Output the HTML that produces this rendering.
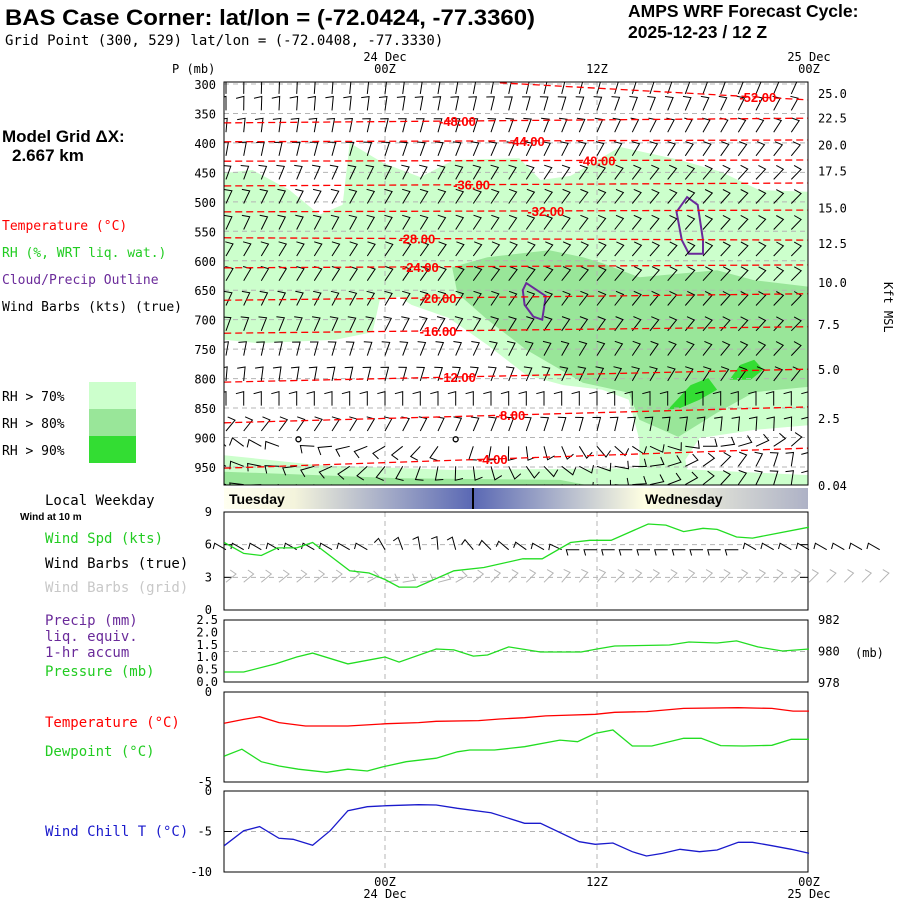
<!DOCTYPE html>
<html><head><meta charset="utf-8"><style>
html,body{margin:0;padding:0;background:#fff;}
svg{display:block;font-family:"Liberation Sans",sans-serif;}
.mono{font-family:"DejaVu Sans Mono","Liberation Mono",monospace;font-size:12px;}
.lab{font-family:"DejaVu Sans Mono","Liberation Mono",monospace;font-size:13px;}
.lab2{font-family:"DejaVu Sans Mono","Liberation Mono",monospace;font-size:14px;}
</style></head><body>
<svg id="chart" width="900" height="900" viewBox="0 0 900 900" xmlns="http://www.w3.org/2000/svg">
<defs>
<clipPath id="mainClip"><rect x="224" y="82" width="584" height="403"/></clipPath>
<linearGradient id="dayGrad" x1="224" y1="0" x2="808" y2="0" gradientUnits="userSpaceOnUse">
<stop offset="0" stop-color="#fffff0"/><stop offset="0.12" stop-color="#f4f4dc"/>
<stop offset="0.426" stop-color="#5a68b4"/><stop offset="0.72" stop-color="#ffffe2"/>
<stop offset="1" stop-color="#aeb2c6"/></linearGradient>
</defs>
<text x="5" y="25" font-size="22" font-weight="bold" textLength="530" lengthAdjust="spacingAndGlyphs">BAS Case Corner:  lat/lon = (-72.0424, -77.3360)</text>
<text x="5" y="45" class="lab2">Grid Point (300, 529) lat/lon = (-72.0408, -77.3330)</text>
<text x="628" y="17" font-size="17.5" font-weight="bold">AMPS WRF Forecast Cycle:</text>
<text x="628" y="38" font-size="17.5" font-weight="bold">2025-12-23 / 12  Z</text>
<text x="2" y="142" font-size="17" font-weight="bold">Model Grid ΔX:</text>
<text x="12" y="161" font-size="17" font-weight="bold">2.667 km</text>
<text x="2" y="230" class="lab" fill="#ff0000">Temperature (°C)</text>
<text x="2" y="257" class="lab" fill="#22cc22">RH (%, WRT liq. wat.)</text>
<text x="2" y="284" class="lab" fill="#6a2a9a">Cloud/Precip Outline</text>
<text x="2" y="311" class="lab">Wind Barbs (kts) (true)</text>
<rect x="89" y="382" width="47" height="27" fill="#ccffcc"/>
<rect x="89" y="409" width="47" height="27" fill="#99e699"/>
<rect x="89" y="436" width="47" height="27" fill="#33dd33"/>
<text x="2" y="401" class="lab">RH &gt; 70%</text>
<text x="2" y="428" class="lab">RH &gt; 80%</text>
<text x="2" y="455" class="lab">RH &gt; 90%</text>
<text x="45" y="505" class="lab2">Local Weekday</text>
<text x="20" y="520" font-size="10" font-weight="bold">Wind at 10 m</text>
<text x="45" y="543" class="lab2" fill="#22cc22">Wind Spd (kts)</text>
<text x="45" y="568" class="lab2">Wind Barbs (true)</text>
<text x="45" y="592" class="lab2" fill="#c8c8c8">Wind Barbs (grid)</text>
<text x="45" y="625" class="lab2" fill="#6a2a9a">Precip (mm)</text>
<text x="45" y="641" class="lab2" fill="#6a2a9a">liq. equiv.</text>
<text x="45" y="657" class="lab2" fill="#6a2a9a">1-hr accum</text>
<text x="45" y="676" class="lab2" fill="#22cc22">Pressure (mb)</text>
<text x="45" y="727" class="lab2" fill="#ff0000">Temperature (°C)</text>
<text x="45" y="756" class="lab2" fill="#22cc22">Dewpoint (°C)</text>
<text x="45" y="836" class="lab2" fill="#1a1acc">Wind Chill T (°C)</text>
<text class="mono" transform="translate(884,282) rotate(90)">Kft MSL</text>
<text class="mono" x="172" y="73">P (mb)</text>
<g id="main"></g>
<rect x="224" y="488" width="584" height="21" fill="url(#dayGrad)"/>
<line x1="473" y1="488" x2="473" y2="509" stroke="#000" stroke-width="2"/>
<text x="229" y="504" font-size="14" font-weight="bold">Tuesday</text>
<text x="645" y="504" font-size="14" font-weight="bold">Wednesday</text>
<g id="lower"></g>
</svg>
<script>
// ---- data ----
const levelTicks = [300,350,400,450,500,550,600,650,700,750,800,850,900,950];
const kftLabels = ["25.0","22.5","20.0","17.5","15.0","12.5","10.0","7.5","5.0","2.5","0.04"];
const kftPressure = [315,357,403,447,510,570,636,707,784,867,981];
const contourLevels = [-48,-44,-40,-36,-32,-28,-24,-20,-16,-12,-8,-4,-52];
const contourStartP = [366,398,431,473,517,561,612,667,723,806,875,952,298];
const contourEndP = [358,395,429,468,514,565,607,656,712,784,848,918,327];
const contourStartH = [-9.1,-9.1,-9.1,-9.1,-9.1,-9.1,-9.1,-9.1,-9.1,-9.1,-9.1,-9.1,6.5];
const contourLabelH = [4.1,8.0,12.0,4.9,9.1,1.8,2.0,3.0,3.0,4.1,7.1,6.1,21.1];
const rh70Main = [[-9.1,451],[-7.5,446],[-5.4,480],[-3.7,522],[-2.4,505],[-2.0,400],[-0.1,434],[2.0,458],[3.9,429],[7.6,426],[8.8,463],[10.5,456],[13.3,407],[16.7,429],[19.0,449],[21.2,480],[24,483],[24,879],[20.9,887],[17.8,901],[17.0,938],[17.3,981],[14.4,981],[14.4,904],[13.8,836],[12.3,819],[10.1,811],[8.0,794],[5.8,743],[3.6,697],[1.5,675],[0.8,661],[-0.3,667],[-0.7,721],[-2.8,734],[-7.2,740],[-9.1,734]];
const rh70Band = [[-9.1,930],[-3.7,947],[3.7,955],[14.4,952],[17.8,955],[24,964],[24,985],[-9.1,985]];
const rh80Main = [[3.8,611],[5.8,594],[9.3,582],[11.2,594],[12.3,604],[14.4,628],[18.8,616],[20.9,633],[24,644],[24,814],[20.9,823],[18.8,858],[16.6,899],[14.4,870],[13.8,824],[11.2,807],[8.0,751],[5.8,700],[4.1,655]];
const rh80Band = [[-9.1,958],[0.8,969],[9.9,972],[12.2,985],[-9.1,985]];
const rh90BlobA = [[16.0,853],[17.3,811],[18.3,799],[18.8,819],[17.8,836],[16.7,850]];
const rh90BlobB = [[19.5,802],[20.1,777],[20.9,768],[21.4,785],[20.7,802]];
const cloudA = [[7.8,650],[8.0,638],[9.1,660],[8.9,700],[8.4,695],[7.9,675]];
const cloudB = [[16.5,517],[17.1,492],[17.7,505],[18.0,565],[18.0,588],[17.2,588],[16.8,565]];
const barbLevels = [305,333,370,410,450,491,535,580,622,664,707,749,792,834,877,903,937,968];
const barbDirEarly = [0,0,5,10,20,25,25,30,30,25,20,10,5,0,40,315,300,285];
const barbDirLate = [25,30,35,40,45,45,45,45,45,45,45,45,40,0,0,40,0,0];
const calmHours = [-4.9,4.0];
const sfcBarbHours = [-9,-8,-7,-6,-5,-4,-3,-2,-1,0,1,2,3,4,5,6,7,8,9,10,11,12,13,14,15,16,17,18,19,20,21,22,23,24,25,26,27,28];
const trueBarbDir = [300,300,300,300,300,300,300,300,300,330,340,350,355,345,320,315,310,305,300,295,270,270,270,270,270,270,270,270,270,270,300,300,300,300,300,300,300,300];
const gridBarbDir = [50,50,50,50,50,50,50,50,60,80,80,80,75,60,50,45,45,45,45,40,40,40,45,45,45,45,45,45,45,45,45,45,45,45,45,45,45,45];
const windHours = [-9.1,-8.0,-7.0,-6.1,-5.0,-4.1,-2.0,-0.9,0,0.8,1.8,3.9,5.6,7.8,8.9,10.5,11.6,12.8,14.9,15.9,16.9,18.0,18.8,19.9,20.8,24.0];
const windSpeed = [6.2,5.2,5.0,5.7,5.7,6.2,3.6,3.4,2.8,2.1,2.1,3.6,3.9,4.7,4.7,6.2,6.4,6.4,7.9,7.8,7.2,7.5,7.4,6.7,6.6,7.6];
const presHours = [-9.1,-8.0,-6.2,-5.0,-4.1,-2.1,0,0.8,2.9,3.9,5.0,5.8,7.0,8.8,11.1,12.0,13.0,16.1,17.2,18.8,19.9,21.1,22.5,24.0];
const presMb = [978.70,978.70,979.21,979.65,979.90,979.21,979.65,979.33,980.16,980.10,979.71,979.78,980.29,979.97,979.97,980.16,980.35,980.41,980.60,980.54,980.67,980.29,980.03,980.16];
const tempHours = [-9.1,-8.0,-7.1,-6.0,-4.5,-2.1,0.1,1.9,2.9,5.3,6.5,7.9,9.1,10.0,11.9,13.0,14.8,16.9,20.0,21.9,23.1,24.0];
const tempC = [-1.74,-1.52,-1.37,-1.70,-1.89,-1.89,-1.76,-1.70,-1.63,-1.59,-1.50,-1.43,-1.33,-1.30,-1.24,-1.13,-1.09,-0.91,-0.87,-0.91,-1.06,-1.06];
const dewHours = [-9.1,-8.1,-7.0,-6.0,-4.9,-3.3,-2.1,-1.0,-0.1,1.2,2.9,4.1,4.8,6.2,7.9,9.9,10.9,11.9,12.9,14.0,15.1,16.9,17.9,19.0,20.3,21.9,23.0,24.0];
const dewC = [-3.56,-3.18,-3.87,-4.11,-4.29,-4.46,-4.29,-4.39,-4.15,-3.87,-3.68,-3.32,-3.22,-3.22,-3.04,-2.67,-2.76,-2.30,-2.11,-3.0,-3.0,-2.57,-2.57,-2.98,-3.0,-2.96,-2.63,-2.63];
const chillHours = [-9.1,-8.0,-7.1,-6.0,-5.2,-4.1,-3.1,-2.1,-1.0,0.1,1.9,2.9,4.1,6.0,7.9,8.8,11.0,11.9,12.9,14.0,14.8,15.7,16.7,17.8,18.8,20.0,20.8,21.9,23.0,24.0];
const chillC = [-6.75,-4.9,-4.4,-5.84,-5.96,-6.7,-4.9,-2.43,-1.94,-1.81,-1.69,-1.73,-2.13,-2.68,-3.99,-3.99,-6.26,-6.58,-6.42,-7.49,-8.02,-7.7,-7.2,-7.49,-7.28,-6.33,-6.33,-6.75,-7.2,-7.69];
const timeTickHours = [0,12,24];
const timeTickLabels = ["00Z","12Z","00Z"];
const dateLabels = ["24 Dec","","25 Dec"];

// ---- scales ----
const NS="http://www.w3.org/2000/svg";
const X = h => 385 + h*17.6667;
const YP = p => 84 + (p-300)*29.46/50;
const mk=(parent,tag,attrs)=>{const e=document.createElementNS(NS,tag);for(const k in attrs)e.setAttribute(k,attrs[k]);parent.appendChild(e);return e;};
const main=document.getElementById('main');
const lower=document.getElementById('lower');

let r=mk(main,'rect',{x:224,y:82,width:584,height:403,fill:'#fff'});


const clipG=mk(main,'g',{'clip-path':'url(#mainClip)'});
const polyStr=arr=>arr.map(d=>X(d[0]).toFixed(1)+','+YP(d[1]).toFixed(1)).join(' ');
function fillPoly(arr,color,name){const p=mk(clipG,'polygon',{points:polyStr(arr),fill:color});

}
fillPoly(rh70Main,'#ccffcc','rh70-region');
fillPoly(rh70Band,'#ccffcc','rh70-surface-band');
fillPoly(rh80Main,'#99e699','rh80-region');
fillPoly(rh80Band,'#99e699','rh80-surface-band');
fillPoly(rh90BlobA,'#33dd33','rh90-region-a');
fillPoly(rh90BlobB,'#33dd33','rh90-region-b');
levelTicks.forEach(p=>{const l=mk(clipG,'line',{x1:224,x2:808,y1:YP(p),y2:YP(p),stroke:'#b4b4b4','stroke-dasharray':'5,4'});

});
[0,12].forEach(h=>{const l=mk(clipG,'line',{x1:X(h),x2:X(h),y1:82,y2:485,stroke:'#b4b4b4','stroke-dasharray':'5,4'});

});
[cloudA,cloudB].forEach((c,i)=>{const p=mk(clipG,'polygon',{points:polyStr(c),fill:'none',stroke:'#6a2a9a','stroke-width':2});

});
function barb(g,x,y,ang,len,tick,color,name){
  const a=ang*Math.PI/180, tx=x+len*Math.sin(a), ty=y-len*Math.cos(a);
  const b=(ang-105)*Math.PI/180;
  const d=`M${x.toFixed(1)},${y.toFixed(1)}L${tx.toFixed(1)},${ty.toFixed(1)}L${(tx+tick*Math.sin(b)).toFixed(1)},${(ty-tick*Math.cos(b)).toFixed(1)}`;
  const p=mk(g,'path',{d:d,fill:'none',stroke:color,'stroke-width':1});
  
  
}
const barbG=mk(clipG,'g',{});
barbLevels.forEach((p,ri)=>{
  for(let h=-9;h<=24;h++){
    if(ri===15 && calmHours.some(c=>Math.abs(c-h)<0.6)) continue;
    const f=(h+9)/33;
    const ang=barbDirEarly[ri]*(1-f)+barbDirLate[ri]*f;
    barb(barbG,X(h),YP(p)+7,ang,14,8,'#000','upper-wind-barb');
  }
});
calmHours.forEach(h=>{const c=mk(clipG,'circle',{cx:X(h),cy:YP(barbLevels[15]),r:2.5,fill:'none',stroke:'#000','stroke-width':1.3});

});
contourLevels.forEach((lv,i)=>{
  const l=mk(clipG,'line',{x1:X(contourStartH[i]),y1:YP(contourStartP[i]),x2:X(24),y2:YP(contourEndP[i]),stroke:'#ff0000','stroke-width':1.3,'stroke-dasharray':'7,4'});
  
  
  const f=(contourLabelH[i]-contourStartH[i])/(24-contourStartH[i]);
  const py=contourStartP[i]*(1-f)+contourEndP[i]*f;
  const t=mk(clipG,'text',{x:X(contourLabelH[i]),y:YP(py)+5,'font-size':13,'font-weight':'bold',fill:'#ff0000','text-anchor':'middle'});
  t.textContent=lv.toFixed(2);
  
  
});
r=mk(main,'rect',{x:224,y:82,width:584,height:403,fill:'none',stroke:'#000','stroke-width':1});


levelTicks.forEach(p=>{const t=mk(main,'text',{x:216,y:YP(p)+5,'text-anchor':'end',class:'mono'});t.textContent=p;

});
kftLabels.forEach((k,i)=>{const t=mk(main,'text',{x:818,y:YP(kftPressure[i])+5,class:'mono'});t.textContent=k;

});
timeTickHours.forEach((h,i)=>{
  let t=mk(main,'text',{x:X(h),y:73,'text-anchor':'middle',class:'mono'});t.textContent=timeTickLabels[i];
  
  
  if(dateLabels[i]){t=mk(main,'text',{x:X(h),y:61,'text-anchor':'middle',class:'mono'});t.textContent=dateLabels[i];
  
  }
  t=mk(lower,'text',{x:X(h),y:886,'text-anchor':'middle',class:'mono'});t.textContent=timeTickLabels[i];
  
  
  if(dateLabels[i]){t=mk(lower,'text',{x:X(h),y:898,'text-anchor':'middle',class:'mono'});t.textContent=dateLabels[i];
  
  }
});

function panel(y0,y1,name,dashVals,yf,leftTicks,rightTicks){
  const g=mk(lower,'g',{});
  
  
  [0,12].forEach(h=>{const l=mk(g,'line',{x1:X(h),x2:X(h),y1:y0,y2:y1,stroke:'#b4b4b4','stroke-dasharray':'5,4'});
  
  });
  dashVals.forEach(v=>{const l=mk(g,'line',{x1:224,x2:808,y1:yf(v),y2:yf(v),stroke:'#b4b4b4','stroke-dasharray':'5,4'});
  
  });
  const rr=mk(g,'rect',{x:224,y:y0,width:584,height:y1-y0,fill:'none',stroke:'#000','stroke-width':1});
  
  
  leftTicks.forEach(t=>{const e=mk(g,'text',{x:212,y:yf(t[0])+4,'text-anchor':'end',class:'mono','font-size':11});e.textContent=t[1];
  
  });
  rightTicks.forEach(t=>{const e=mk(g,'text',{x:818,y:yf(t[0])+4,class:'mono','font-size':11});e.textContent=t[1];
  
  });
  return g;
}
function line(g,hs,vs,yf,color,name){
  const p=mk(g,'polyline',{points:hs.map((h,i)=>X(h).toFixed(1)+','+yf(vs[i]).toFixed(1)).join(' '),fill:'none',stroke:color,'stroke-width':1.3});
  
  
}
const YW=v=>610-v*10.89;
const gW=panel(512,610,'wind-panel',[6,3],YW,[[9,'9'],[6,'6'],[3,'3'],[0,'0']],[]);
[6,3].forEach(v=>{[[224,232],[800,808]].forEach(s=>{const l=mk(gW,'line',{x1:s[0],x2:s[1],y1:YW(v),y2:YW(v),stroke:'#000'});

});});
sfcBarbHours.forEach((h,i)=>{
  barb(gW,X(h),YW(6)+5,trueBarbDir[i],13,6,'#000','true-wind-barb');
  barb(gW,X(h),YW(3)+5,gridBarbDir[i],13,7,'#b4b4b4','grid-wind-barb');
});
line(gW,windHours,windSpeed,YW,'#22dd22','wind-speed-line');

const YPr=mb=>620+(982-mb)*15.75;
const YPc=mm=>682-mm*24.8;
const gP=panel(620,682,'pressure-panel',[980],YPr,[],[[982,'982'],[980,'980'],[978,'978']]);
[[2.5,'2.5'],[2.0,'2.0'],[1.5,'1.5'],[1.0,'1.0'],[0.5,'0.5'],[0.0,'0.0']].forEach(t=>{const e=mk(gP,'text',{x:218,y:YPc(t[0])+4,'text-anchor':'end',class:'mono','font-size':11});e.textContent=t[1];

});
let mbT=mk(gP,'text',{x:855,y:657,class:'mono','font-size':14});mbT.textContent='(mb)';


line(gP,presHours,presMb,YPr,'#22dd22','pressure-line');

const YTc=v=>692+(-v)*18;
const gT=panel(692,782,'temperature-panel',[],YTc,[[0,'0'],[-5,'-5']],[]);
line(gT,tempHours,tempC,YTc,'#ff0000','temperature-line');
line(gT,dewHours,dewC,YTc,'#22dd22','dewpoint-line');

const YC=v=>791+(-v)*8.1;
const gC=panel(791,872,'wind-chill-panel',[-5],YC,[[0,'0'],[-5,'-5'],[-10,'-10']],[]);
[[224,232],[800,808]].forEach(s=>{const l=mk(gC,'line',{x1:s[0],x2:s[1],y1:YC(-5),y2:YC(-5),stroke:'#000'});

});
line(gC,chillHours,chillC,YC,'#1a1acc','wind-chill-line');
</script>
</body></html>
